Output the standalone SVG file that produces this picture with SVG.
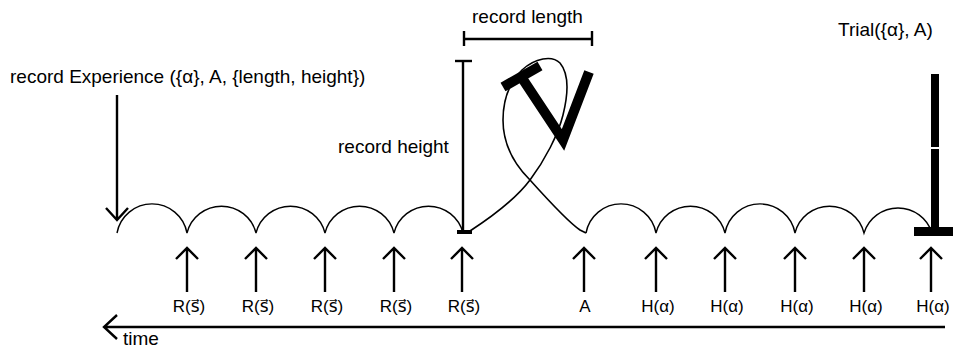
<svg xmlns="http://www.w3.org/2000/svg" width="953" height="350" viewBox="0 0 953 350">
<defs>
<style>
text{font-family:"Liberation Sans","DejaVu Sans",sans-serif;fill:#000}
.t{font-size:19px}
.lab{font-size:17px;text-anchor:middle}
.arc{fill:none;stroke:#000;stroke-width:1.4}
.ar{fill:none;stroke:#000;stroke-width:2.4}
.thick{fill:none;stroke:#000;stroke-width:10}
</style>
</defs>
<rect width="953" height="350" fill="#fff"/>
<g id="chain-left">
<path class="arc" d="M117,233 A35.6,35.6 0 0 1 187,233 A35.6,35.6 0 0 1 256,233 A35.6,35.6 0 0 1 325,233 A35.6,35.6 0 0 1 394,233 A35.6,35.6 0 0 1 463,233"/>
</g>
<g id="chain-right">
<path class="arc" d="M586,233 A35.6,35.6 0 0 1 656,233 A35.6,35.6 0 0 1 725,233 A35.6,35.6 0 0 1 795,233 A35.6,35.6 0 0 1 864,233 A35.6,35.6 0 0 1 932,233"/>
</g>
<g id="loop">
<path fill="none" stroke="#000" stroke-width="1.6" d="M470,231 C490,218 515,200 530,180 C545,160 558,135 563,115 C568,95 570,75 560,63 C552,55 535,58 522,70 C510,82 503,100 503,120 C503,145 515,165 530,180 C548,200 568,222 580,230 L586,233"/>
</g>
<g id="tv">
<line class="thick" x1="503" y1="87" x2="540" y2="66"/>
<polyline class="thick" stroke-linejoin="miter" points="520,75 563,140 589,72"/>
</g>
<g id="record-height">
<line class="ar" x1="463" y1="61" x2="463" y2="232"/>
<line class="ar" x1="455" y1="61" x2="472" y2="61"/>
<rect x="457" y="230" width="15" height="4" fill="#000"/>
<text class="t" x="338" y="153">record height</text>
</g>
<g id="record-length">
<line class="ar" x1="464" y1="39" x2="592" y2="39"/>
<line class="ar" x1="464" y1="31" x2="464" y2="46"/>
<line class="ar" x1="592" y1="31" x2="592" y2="46"/>
<text class="t" x="472" y="23">record length</text>
</g>
<g id="trial">
<rect x="931" y="74" width="8" height="73" fill="#000"/>
<rect x="931" y="149" width="8" height="80" fill="#000"/>
<rect x="914" y="227" width="39" height="9" fill="#000"/>
<text class="t" x="838" y="36">Trial({α}, A)</text>
</g>
<g id="experience">
<text class="t" x="10" y="83">record Experience ({α}, A, {length, height})</text>
</g>
<g id="connectors">
<path class="ar" d="M117,95 V220 M106,208 L117,220 L128,208"/>
<path class="ar" d="M187,292 V248 M176,259 L187,248 L198,259"/>
<path class="ar" d="M256,292 V248 M245,259 L256,248 L267,259"/>
<path class="ar" d="M325,292 V248 M314,259 L325,248 L336,259"/>
<path class="ar" d="M394,292 V248 M383,259 L394,248 L405,259"/>
<path class="ar" d="M462,292 V248 M451,259 L462,248 L473,259"/>
<path class="ar" d="M584,292 V248 M573,259 L584,248 L595,259"/>
<path class="ar" d="M656,292 V248 M645,259 L656,248 L667,259"/>
<path class="ar" d="M725,292 V248 M714,259 L725,248 L736,259"/>
<path class="ar" d="M795,292 V248 M784,259 L795,248 L806,259"/>
<path class="ar" d="M864,292 V248 M853,259 L864,248 L875,259"/>
<path class="ar" d="M931,292 V248 M920,259 L931,248 L942,259"/>
<path class="ar" d="M945,327 H104 M117,315 L104,327 L117,339"/>
</g>
<g id="labels">
<text class="lab" x="189" y="312">R(s⃗)</text>
<text class="lab" x="258" y="312">R(s⃗)</text>
<text class="lab" x="327" y="312">R(s⃗)</text>
<text class="lab" x="396" y="312">R(s⃗)</text>
<text class="lab" x="464" y="312">R(s⃗)</text>
<text class="lab" x="585" y="312">A</text>
<text class="lab" x="658" y="312">H(α)</text>
<text class="lab" x="727" y="312">H(α)</text>
<text class="lab" x="797" y="312">H(α)</text>
<text class="lab" x="866" y="312">H(α)</text>
<text class="lab" x="933" y="312">H(α)</text>
<text class="t" x="123" y="345">time</text>
</g>
</svg>
